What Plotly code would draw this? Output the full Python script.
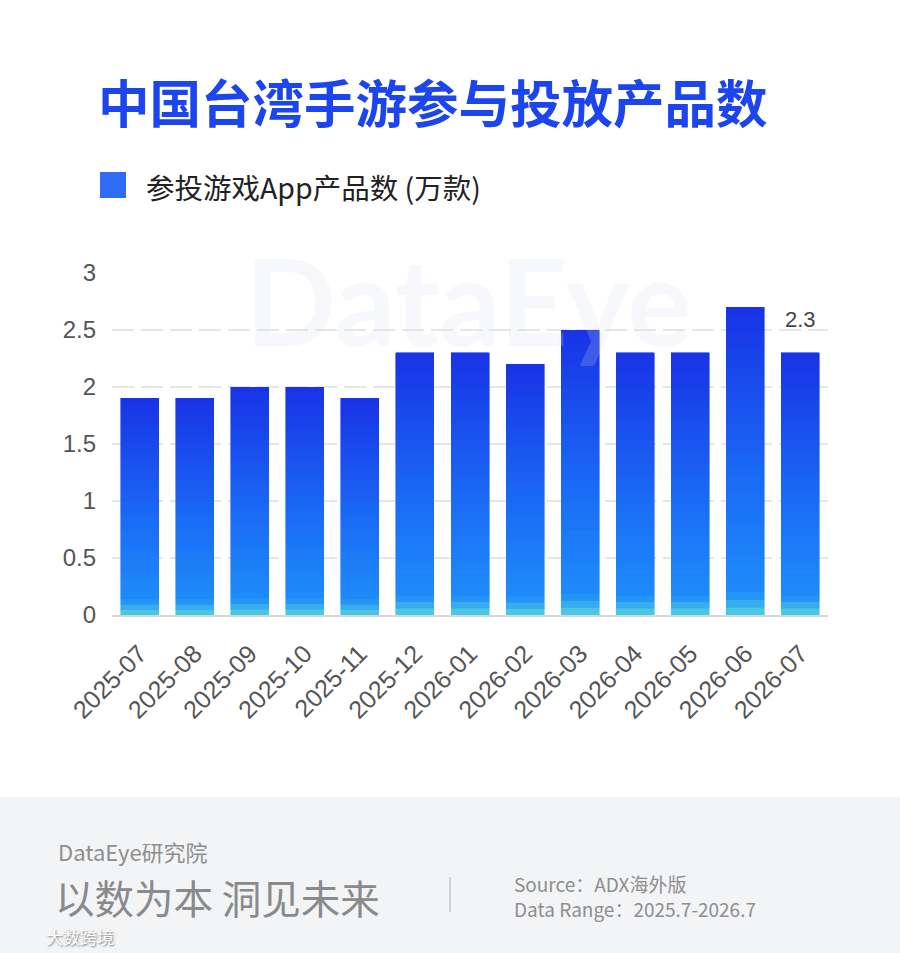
import plotly.graph_objects as go

# monthly data (万款)
months = ["2025-07", "2025-08", "2025-09", "2025-10", "2025-11", "2025-12", "2026-01",
          "2026-02", "2026-03", "2026-04", "2026-05", "2026-06", "2026-07"]
app_counts = [1.9, 1.9, 2.0, 2.0, 1.9, 2.3, 2.3, 2.2, 2.5, 2.3, 2.3, 2.7, 2.3]

W, H = 900, 953
L, R, T, B = 112, 828, 273, 615  # plot area in px

def px(x):
    return (x - L) / (R - L)

def py(y):
    return (B - y) / (B - T)

def mix(c1, c2, t):
    return "#%02x%02x%02x" % tuple(int(round(a + (b - a) * t)) for a, b in zip(c1, c2))

# vertical gradient, bottom -> top
stops = [(0.0, (0x52, 0xd4, 0xe0)), (0.07, (0x1e, 0x8c, 0xfa)),
         (0.45, (0x1a, 0x6a, 0xf5)), (1.0, (0x19, 0x33, 0xe6))]

def grad(t):
    for (t0, c0), (t1, c1) in zip(stops, stops[1:]):
        if t <= t1:
            return mix(c0, c1, (t - t0) / (t1 - t0))
    return mix(stops[-1][1], stops[-1][1], 0)

N_SEG = 40
fig = go.Figure()
for k in range(N_SEG):
    col = grad((k + 0.5) / N_SEG)
    fig.add_trace(go.Bar(
        x=months, y=[v / N_SEG for v in app_counts],
        marker=dict(color=col, line=dict(color=col, width=0.6)),
        showlegend=False, hoverinfo="skip",
    ))

def txt(text, x, y, size, color, family="Noto Sans CJK SC", xanchor="left", **kw):
    return dict(text=text, x=px(x), y=py(y), xref="paper", yref="paper",
                xanchor=xanchor, yanchor="middle", showarrow=False, align="left",
                font=dict(family=family, size=size, color=color, **kw))

ann = [
    # watermark
    txt("<b>DataEye</b>", 468, 300, 120, "rgba(215,222,235,0.2)", family="Lato, Roboto", xanchor="center"),
    # title
    txt("<b>中国台湾手游参与投放产品数</b>", 96, 100, 51.5, "#1c45ee"),
    # legend text
    txt("参投游戏App产品数 (万款)", 144, 186, 28.5, "#222222"),
    # footer
    txt("DataEye研究院", 56, 851, 22, "#8e8e8e"),
    txt("以数为本 洞见未来", 53, 896, 39.5, "#8a8a8a"),
    txt("Source：ADX海外版<br>Data Range：2025.7-2026.7", 512, 896, 19, "#8e8e8e"),
    txt("大数跨境", 44, 936, 17, "#ffffff", shadow="1px 1px 2px #777"),
]
# data label on the last bar
ann.append(dict(text=str(app_counts[-1]), x=months[-1], y=app_counts[-1], xref="x", yref="y",
                yshift=33, showarrow=False,
                font=dict(family="Liberation Sans, Arial", size=22, color="#444444")))

shapes = [
    dict(type="rect", xref="paper", yref="paper", x0=px(0), x1=px(W), y0=py(797), y1=py(H),
         fillcolor="#f3f4f6", line=dict(width=0), layer="below"),
    dict(type="rect", xref="paper", yref="paper", x0=px(100), x1=px(126), y0=py(198), y1=py(172),
         fillcolor="#2e6cf6", line=dict(width=0)),
    dict(type="line", xref="paper", yref="paper", x0=px(450), x1=px(450), y0=py(877), y1=py(912),
         line=dict(color="#c8c8c8", width=1.5)),
]

fig.update_layout(
    width=W, height=H,
    margin=dict(l=L, r=W - R, t=T, b=H - B),
    paper_bgcolor="white", plot_bgcolor="rgba(0,0,0,0)",
    barmode="stack", bargap=0.31,
    font=dict(family="Liberation Sans, Arial", color="#555555"),
    annotations=ann, shapes=shapes,
    xaxis=dict(type="category", tickangle=-45, tickfont=dict(size=25, color="#555555"),
               showgrid=False, showline=True, linecolor="#d6d6d6", linewidth=2,
               ticks="", ticklabelstandoff=12, fixedrange=True),
    yaxis=dict(range=[0, 3], dtick=0.5, tickfont=dict(size=24, color="#555555"),
               showgrid=True, gridcolor="#e6e6e6", griddash="22px,7px", gridwidth=2,
               zeroline=False, ticklabelstandoff=15, fixedrange=True),
)

# drop the default 8px page margin so the figure sits at the window's corner
fig.write_html("out.html", config={"displayModeBar": False},
               post_script="document.body.style.margin='0';")
